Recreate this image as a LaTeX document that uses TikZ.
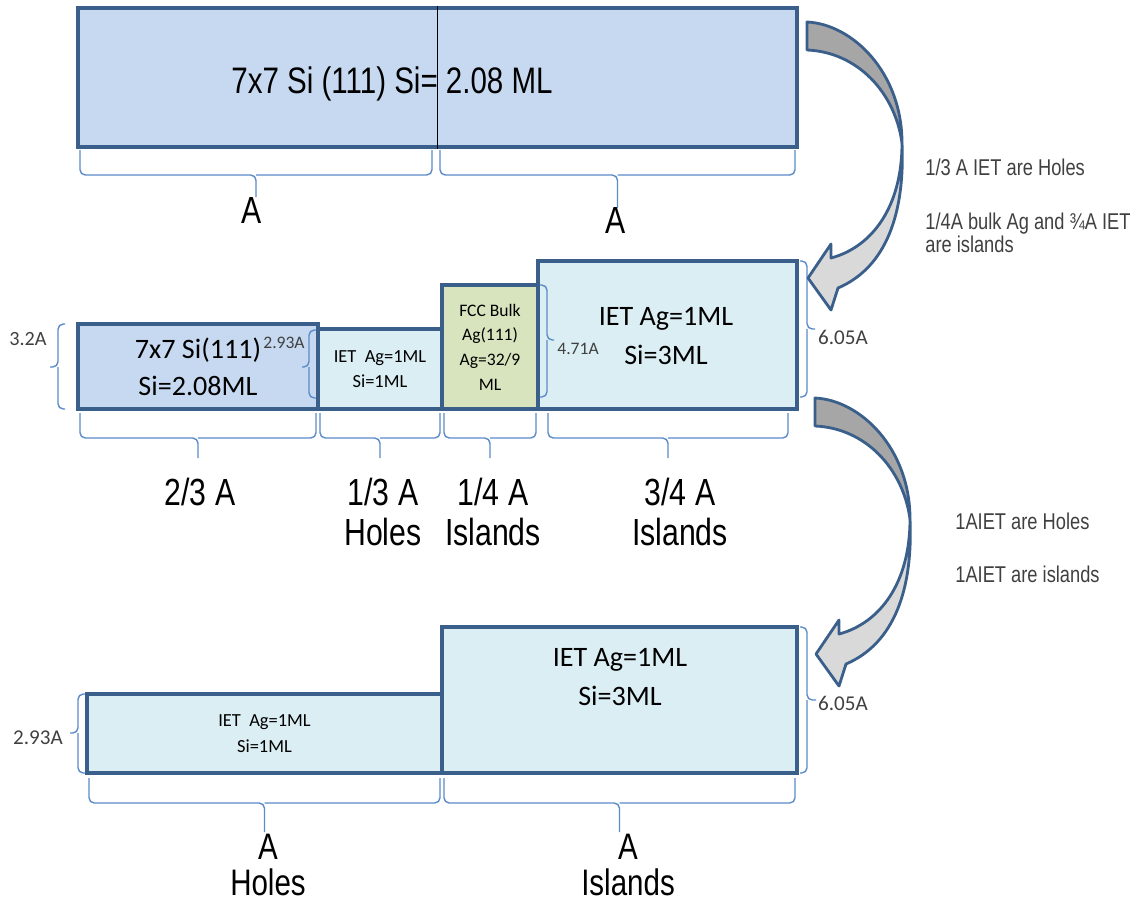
\documentclass[tikz,border=0pt]{standalone}
\usepackage{fontspec}
\setmainfont{Carlito}
\newfontfamily\narrowsf[FakeStretch=0.8]{Liberation Sans}
\usetikzlibrary{positioning}
\usetikzlibrary{fit}

\definecolor{boxline}{HTML}{3A5F8B}
\definecolor{sifill}{HTML}{C6D9F0}
\definecolor{ietfill}{HTML}{DBEEF4}
\definecolor{fccfill}{HTML}{D7E4BD}
\definecolor{bracecol}{HTML}{5B8BC9}
\definecolor{arrowdark}{HTML}{A6A6A6}
\definecolor{arrowlight}{HTML}{D9D9D9}
\definecolor{notegray}{HTML}{404040}

\tikzstyle{layer}    = [draw=boxline, line width=2pt, inner sep=0pt, align=center]
\tikzstyle{brc}      = [draw=bracecol, line width=0.8pt, rounded corners=3pt]
\tikzstyle{cnt}      = [font=\narrowsf\fontsize{21.5}{23}\selectfont, align=center]
\tikzstyle{thk}      = [text=notegray, font=\fontsize{12}{14}\selectfont]
\tikzstyle{note}     = [text=notegray, font=\narrowsf\fontsize{13}{13}\selectfont, align=left, anchor=west, inner sep=0pt]
\tikzstyle{arrowline} = [draw=boxline, line width=1.6pt, line join=round]

% brace under a span: x1, x2, top, bar, tip
\newcommand{\hbr}[5]{%
  \draw[brc] (#1,#3) |- ({(#1+#2)/2},#4) -- ({(#1+#2)/2},#5);
  \draw[brc] (#2,#3) |- ({(#1+#2)/2},#4);
}
% brace beside a layer: x ends, x bar, x tip, y1, y2, y tip
\newcommand{\vbr}[6]{%
  \draw[brc] (#1,#4) -| (#2,#6) -- (#3,#6);
  \draw[brc] (#1,#5) -| (#2,#6);
}

% curved block arrow, origin at the top of its tail
\tikzset{bendarrow/.pic={
  \draw[arrowline, fill=arrowdark] (0,0) .. controls (45,2) and (95,50) .. (95,121)
    .. controls (88,70) and (50,30) .. (0,28) -- cycle;
  \draw[arrowline, fill=arrowlight] (95,121) .. controls (95,185) and (65,225) .. (24,236)
    -- (24,222) -- (1,256) -- (24,288) -- (31,266)
    .. controls (80,245) and (98,190) .. (95,121) -- cycle;
}}

\begin{document}
\begin{tikzpicture}[x=0.02cm, y=-0.02cm]
	\useasboundingbox (0,0) rectangle (1141,904);

	% clean surface
	\node [layer, fill=sifill, fit={(78,8) (797,147)}] (topsi) {};
	\node [font=\narrowsf\fontsize{21}{24}\selectfont] (toptxt) at (392,84) {7x7 Si (111) Si= 2.08 ML};
	\draw [black, line width=0.6pt] (topsi.north) -- (topsi.south);
	\hbr{80}{432}{150}{175}{197}
	\hbr{440}{795}{150}{175}{208}
	\node [cnt] (a1) at (252,210) {A};
	\node [cnt] (a2) at (616,220) {A};

	% after the first deposit
	\node [layer, fill=sifill, fit={(78,324) (318,409)}] (si7) {};
	\node [layer, fill=ietfill, fit={(318,329) (442,409)}] (ietA) {};
	\node [layer, fill=fccfill, fit={(442,285) (538,409)}] (fcc) {};
	\node [layer, fill=ietfill, fit={(538,261) (797,409)}] (ietB) {};
	\node [align=center, font=\fontsize{16}{21}\selectfont] at (si7.center) {7x7 Si(111)\\Si=2.08ML};
	\node [align=center, font=\fontsize{10.5}{14.5}\selectfont] at (ietA.center) {IET\ \ Ag=1ML\\Si=1ML};
	\node [align=center, font=\fontsize{10}{14}\selectfont] at (fcc.center) {FCC Bulk\\Ag(111)\\Ag=32/9\\ML};
	\node [align=center, font=\fontsize{16}{22.5}\selectfont] at (666,336) {IET Ag=1ML\\Si=3ML};

	\vbr{65}{58}{50}{324}{409}{367}
	\node [thk, font=\fontsize{11.5}{14}\selectfont] (h1) at (28,339) {3.2A};
	\vbr{316}{309}{302}{330}{398}{367}
	\node [thk, font=\fontsize{10}{12}\selectfont] (h2) at (284,343) {2.93A};
	\vbr{540}{547}{554}{285}{397}{340}
	\node [thk, font=\fontsize{10}{12}\selectfont] (h3) at (578,349) {4.71A};
	\vbr{800}{807}{815}{261}{397}{329}
	\node [thk] (h4) at (843,337) {6.05A};

	\hbr{80}{316}{413}{438}{458}
	\hbr{320}{440}{413}{438}{458}
	\hbr{444}{536}{413}{438}{458}
	\hbr{548}{788}{413}{438}{458}
	\node [cnt] (w1) at (200,492) {2/3 A};
	\node [cnt] (w2) at (383,512) {1/3 A\\Holes};
	\node [cnt] (w3) at (493,512) {1/4 A\\Islands};
	\node [cnt] (w4) at (680,512) {3/4 A\\Islands};

	% final state
	\node [layer, fill=ietfill, fit={(87,694) (442,773)}] (holes) {};
	\node [layer, fill=ietfill, fit={(442,627) (797,773)}] (isl) {};
	\node [align=center, font=\fontsize{10.5}{14.5}\selectfont] at (holes.center) {IET\ \ Ag=1ML\\Si=1ML};
	\node [align=center, font=\fontsize{16}{22.5}\selectfont] at (620,677) {IET Ag=1ML\\Si=3ML};

	\vbr{85}{78}{70}{694}{773}{733}
	\node [thk] (h5) at (38,738) {2.93A};
	\vbr{800}{807}{816}{627}{773}{700}
	\node [thk] (h6) at (843,703) {6.05A};

	\hbr{89}{440}{778}{803}{832}
	\hbr{444}{795}{778}{803}{832}
	\node [cnt, inner sep=0pt, font=\narrowsf\fontsize{21}{20.5}\selectfont] (w5) at (268,865) {A\\Holes};
	\node [cnt, inner sep=0pt, font=\narrowsf\fontsize{21}{20.5}\selectfont] (w6) at (628,865) {A\\Islands};

	% steps between the rows
	\pic at (807,22) {bendarrow};
	\pic at (815,398) {bendarrow};
	\node [note] (n1) at (925,167) {1/3 A IET are Holes};
	\node [note] (n2) at (925,233) {1/4A bulk Ag and ¾A IET\\are islands};
	\node [note] (n3) at (955,521) {1AIET are Holes};
	\node [note] (n4) at (955,574) {1AIET are islands};
\end{tikzpicture}
\end{document}
